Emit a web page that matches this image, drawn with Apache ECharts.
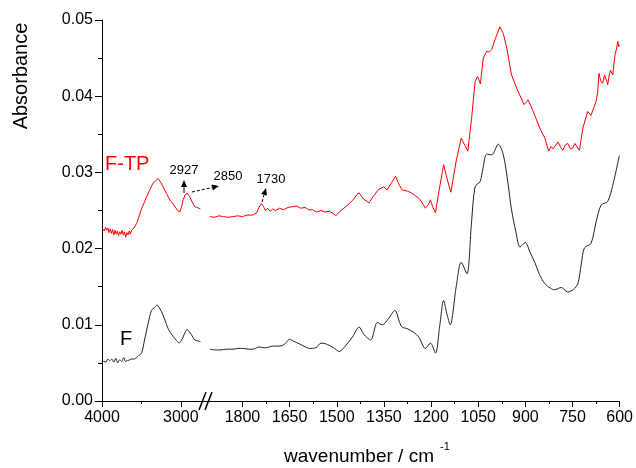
<!DOCTYPE html>
<html>
<head>
<meta charset="utf-8">
<title>FTIR F / F-TP</title>
<script src="https://cdn.jsdelivr.net/npm/echarts@6/dist/echarts.min.js"></script>
<style>
  html, body { margin: 0; padding: 0; background: #fff; }
  #chart { width: 636px; height: 468px; }
</style>
</head>
<body>
<div id="chart"></div>
<script>
// tick positions (wavenumber, cm-1) for the two parts of the broken axis
var leftTicks = [4000, 3000];
var leftMinor = [3500];
var rightTicks = [1800, 1650, 1500, 1350, 1200, 1050, 900, 750, 600];
var rightMinor = [1725, 1575, 1425, 1275, 1125, 975, 825, 675];
var yMinor = [0.005, 0.015, 0.025, 0.035, 0.045];

// F-TP (red), 4000 - 2750
var ftpLeft = [
  [4000,0.0227],[3985,0.0229],[3970,0.0223],[3955,0.0228],[3940,0.0224],[3925,0.0227],
  [3910,0.0221],[3895,0.0226],[3880,0.0220],[3865,0.0225],[3850,0.0218],[3835,0.0224],
  [3820,0.0219],[3805,0.0223],[3790,0.0217],[3775,0.0222],[3760,0.0219],[3745,0.0224],
  [3730,0.0218],[3715,0.0222],[3700,0.0215],[3685,0.0221],[3670,0.0218],[3655,0.0223],
  [3640,0.0219],[3625,0.0224],[3610,0.0222],[3595,0.0227],[3561,0.0233],[3530,0.0242],
  [3500,0.0252],[3465,0.0260],[3434,0.0268],[3390,0.0278],[3351,0.0286],[3320,0.0289],
  [3287,0.0292],[3255,0.0287],[3224,0.0281],[3180,0.0272],[3139,0.0264],[3080,0.0256],
  [3040,0.0250],[3013,0.0248],[2990,0.0255],[2971,0.0264],[2945,0.0270],[2920,0.0273],
  [2900,0.0272],[2886,0.0268],[2850,0.0260],[2823,0.0255],[2790,0.0254],[2751,0.0252]
];
// F-TP (red), 1900 - 600
var ftpRight = [
  [1904,0.0242],[1890,0.0241],[1875,0.0243],[1860,0.0242],[1845,0.0241],[1830,0.0242],
  [1815,0.0243],[1800,0.0242],[1785,0.0244],[1767,0.0244],[1755,0.0247],[1745,0.0256],
  [1740,0.0259],[1733,0.0255],[1727,0.0250],[1720,0.0253],[1712,0.0249],[1704,0.0252],
  [1695,0.0250],[1682,0.0253],[1670,0.0251],[1655,0.0254],[1640,0.0255],[1629,0.0256],
  [1615,0.0253],[1600,0.0254],[1590,0.0251],[1577,0.0251],[1565,0.0248],[1550,0.0250],
  [1537,0.0248],[1524,0.0249],[1510,0.0246],[1503,0.0243],[1490,0.0249],[1471,0.0255],
  [1450,0.0263],[1436,0.0271],[1429,0.0273],[1415,0.0265],[1397,0.0260],[1385,0.0268],
  [1366,0.0278],[1350,0.0281],[1340,0.0277],[1325,0.0287],[1313,0.0295],[1303,0.0285],
  [1292,0.0277],[1280,0.0276],[1271,0.0275],[1255,0.0271],[1239,0.0266],[1228,0.0260],
  [1218,0.0253],[1208,0.0258],[1202,0.0264],[1195,0.0255],[1186,0.0247],[1175,0.0275],
  [1160,0.0310],[1148,0.0290],[1137,0.0274],[1120,0.0315],[1104,0.0345],[1092,0.0335],
  [1083,0.0328],[1071,0.0371],[1060,0.0419],[1052,0.0426],[1043,0.0416],[1034,0.0450],
  [1023,0.0459],[1015,0.0458],[1007,0.0461],[995,0.0476],[981,0.0491],[970,0.0482],
  [960,0.0465],[944,0.0428],[923,0.0406],[904,0.0389],[891,0.0395],[875,0.0380],
  [854,0.0358],[838,0.0345],[826,0.0328],[818,0.0334],[812,0.0331],[796,0.0340],
  [788,0.0333],[781,0.0329],[773,0.0336],[765,0.0338],[757,0.0331],[749,0.0332],
  [743,0.0338],[738,0.0336],[728,0.0329],[717,0.0358],[702,0.0380],[691,0.0375],
  [675,0.0393],[670,0.0405],[666,0.0430],[660,0.0420],[654,0.0417],[648,0.0428],
  [645,0.0430],[641,0.0420],[638,0.0415],[633,0.0428],[629,0.0434],[622,0.0428],
  [615,0.0454],[610,0.0462],[606,0.0472],[603,0.0465],[601,0.0467]
];
// F (black), 4000 - 2750
var fLeft = [
  [4000,0.0050],[3975,0.0052],[3950,0.0051],[3925,0.0055],[3900,0.0053],[3875,0.0055],
  [3850,0.0051],[3825,0.0056],[3800,0.0050],[3775,0.0054],[3750,0.0052],[3725,0.0057],
  [3700,0.0052],[3675,0.0053],[3650,0.0054],[3625,0.0055],[3600,0.0055],[3560,0.0057],
  [3530,0.0060],[3497,0.0063],[3460,0.0080],[3414,0.0102],[3371,0.0119],[3330,0.0123],
  [3300,0.0126],[3270,0.0122],[3244,0.0117],[3200,0.0106],[3161,0.0095],[3100,0.0085],
  [3050,0.0079],[3022,0.0076],[2995,0.0079],[2971,0.0084],[2945,0.0090],[2920,0.0094],
  [2895,0.0091],[2865,0.0087],[2823,0.0080],[2790,0.0079],[2751,0.0078]
];
// F (black), 1900 - 600
var fRight = [
  [1904,0.0068],[1888,0.0067],[1872,0.0067],[1850,0.0068],[1830,0.0068],[1815,0.0069],
  [1798,0.0069],[1780,0.0068],[1767,0.0068],[1746,0.0071],[1735,0.0070],[1724,0.0070],
  [1705,0.0072],[1690,0.0072],[1672,0.0073],[1660,0.0077],[1651,0.0081],[1635,0.0078],
  [1619,0.0075],[1600,0.0071],[1587,0.0069],[1566,0.0070],[1550,0.0076],[1535,0.0075],
  [1524,0.0073],[1510,0.0070],[1492,0.0065],[1471,0.0073],[1450,0.0084],[1429,0.0097],
  [1413,0.0087],[1392,0.0080],[1371,0.0103],[1355,0.0100],[1334,0.0109],[1315,0.0119],
  [1300,0.0103],[1292,0.0097],[1276,0.0095],[1255,0.0090],[1239,0.0084],[1218,0.0069],
  [1202,0.0076],[1186,0.0063],[1172,0.0100],[1160,0.0132],[1150,0.0115],[1139,0.0100],
  [1120,0.0150],[1104,0.0182],[1086,0.0167],[1072,0.0230],[1060,0.0281],[1044,0.0288],
  [1035,0.0305],[1023,0.0324],[1007,0.0323],[986,0.0337],[970,0.0323],[955,0.0285],
  [944,0.0251],[930,0.0222],[917,0.0202],[900,0.0208],[885,0.0195],[870,0.0182],
  [855,0.0166],[838,0.0154],[820,0.0148],[807,0.0146],[786,0.0149],[765,0.0143],
  [748,0.0146],[733,0.0154],[722,0.0180],[712,0.0201],[691,0.0207],[675,0.0235],
  [659,0.0257],[638,0.0262],[622,0.0283],[601,0.0322]
];

var FONT = "'Liberation Sans', Arial, sans-serif";
var myChart = echarts.init(document.getElementById("chart"), null, { renderer: "canvas" });

// line + filled head, used for the peak annotations
function arrow(x1, y1, x2, y2, dashed) {
  var a = Math.atan2(y2 - y1, x2 - x1);
  var L = 7, W = 3;
  var bx = x2 - L * Math.cos(a), by = y2 - L * Math.sin(a);
  return [
    { type: "line", shape: { x1: x1, y1: y1, x2: bx, y2: by },
      style: { stroke: "#000", lineWidth: 1, lineDash: dashed ? [3, 2] : null } },
    { type: "polygon",
      shape: { points: [[x2, y2],
        [bx + W * Math.sin(a), by - W * Math.cos(a)],
        [bx - W * Math.sin(a), by + W * Math.cos(a)]] },
      style: { fill: "#000" } }
  ];
}

function mainX(grid, min, max, ticks) {
  return {
    type: "value", gridIndex: grid, position: "bottom", inverse: true,
    min: min, max: max,
    axisLine: { show: true, lineStyle: { color: "#000", width: 1 } },
    axisTick: { show: true, inside: false, length: 6, customValues: ticks, lineStyle: { color: "#000" } },
    axisLabel: { customValues: ticks, color: "#000", fontSize: 16, fontFamily: FONT, margin: 9,
      formatter: function (v) { return String(v); } },
    splitLine: { show: false }
  };
}
function minorX(grid, min, max, ticks) {
  return {
    type: "value", gridIndex: grid, position: "bottom", inverse: true,
    min: min, max: max,
    axisLine: { show: false },
    axisTick: { show: true, inside: false, length: 3, customValues: ticks, lineStyle: { color: "#000" } },
    axisLabel: { show: false },
    splitLine: { show: false }
  };
}

var option = {
  animation: false,
  backgroundColor: "#fff",
  grid: [
    { left: 102, top: 20, width: 104, bottom: 67 },
    { left: 206, top: 20, right: 14, bottom: 67 }
  ],
  xAxis: [
    mainX(0, 2680, 4000, leftTicks),
    minorX(0, 2680, 4000, leftMinor),
    mainX(1, 600, 1916, rightTicks),
    minorX(1, 600, 1916, rightMinor)
  ],
  yAxis: [
    {
      type: "value", gridIndex: 0, min: 0, max: 0.05, interval: 0.01,
      axisLine: { show: true, lineStyle: { color: "#000", width: 1 } },
      axisTick: { show: true, inside: false, length: 7, lineStyle: { color: "#000" } },
      axisLabel: { color: "#000", fontSize: 16, fontFamily: FONT, margin: 9,
        formatter: function (v) { return v.toFixed(2); } },
      splitLine: { show: false }
    },
    { type: "value", gridIndex: 1, min: 0, max: 0.05, show: false },
    {
      // short ticks half way between the labelled ones
      type: "value", gridIndex: 0, position: "left", min: 0, max: 0.05,
      axisLine: { show: false },
      axisTick: { show: true, inside: false, length: 4, customValues: yMinor, lineStyle: { color: "#000" } },
      axisLabel: { show: false },
      splitLine: { show: false }
    }
  ],
  series: [
    { name: "F-TP", type: "line", xAxisIndex: 0, yAxisIndex: 0, data: ftpLeft,
      showSymbol: false, lineStyle: { color: "#ff0000", width: 1 } },
    { name: "F-TP", type: "line", xAxisIndex: 2, yAxisIndex: 1, data: ftpRight,
      showSymbol: false, lineStyle: { color: "#ff0000", width: 1 } },
    { name: "F", type: "line", xAxisIndex: 0, yAxisIndex: 0, data: fLeft,
      showSymbol: false, smooth: 0.3, lineStyle: { color: "#222", width: 1 } },
    { name: "F", type: "line", xAxisIndex: 2, yAxisIndex: 1, data: fRight,
      showSymbol: false, smooth: 0.3, lineStyle: { color: "#222", width: 1 } }
  ],
  graphic: [].concat(
    [
      { type: "text", x: 21, y: 76, rotation: Math.PI / 2,
        style: { text: "Absorbance", font: "20px " + FONT, fill: "#000", align: "center", verticalAlign: "middle" } },
      { type: "text", x: 359, y: 457,
        style: { text: "wavenumber / cm", font: "19px " + FONT, fill: "#000", align: "center", verticalAlign: "middle" } },
      { type: "text", x: 440, y: 447,
        style: { text: "-1", font: "11px " + FONT, fill: "#000", align: "left", verticalAlign: "middle" } },
      { type: "text", x: 105, y: 164,
        style: { text: "F-TP", font: "20px " + FONT, fill: "#ff0000", align: "left", verticalAlign: "middle" } },
      { type: "text", x: 120, y: 339,
        style: { text: "F", font: "20px " + FONT, fill: "#000", align: "left", verticalAlign: "middle" } },
      { type: "text", x: 184, y: 170,
        style: { text: "2927", font: "13px " + FONT, fill: "#000", align: "center", verticalAlign: "middle" } },
      { type: "text", x: 228, y: 176,
        style: { text: "2850", font: "13px " + FONT, fill: "#000", align: "center", verticalAlign: "middle" } },
      { type: "text", x: 271, y: 179,
        style: { text: "1730", font: "13px " + FONT, fill: "#000", align: "center", verticalAlign: "middle" } },
      // axis break
      { type: "line", shape: { x1: 199, y1: 410, x2: 206, y2: 392 }, style: { stroke: "#000", lineWidth: 1.5 } },
      { type: "line", shape: { x1: 205, y1: 410, x2: 212, y2: 392 }, style: { stroke: "#000", lineWidth: 1.5 } }
    ],
    arrow(184, 193, 184, 180, false),
    arrow(192, 192, 219, 186, true),
    arrow(262, 202, 266, 188, true)
  )
};

myChart.setOption(option);
window.onresize = function () { myChart.resize(); };
</script>
</body>
</html>
